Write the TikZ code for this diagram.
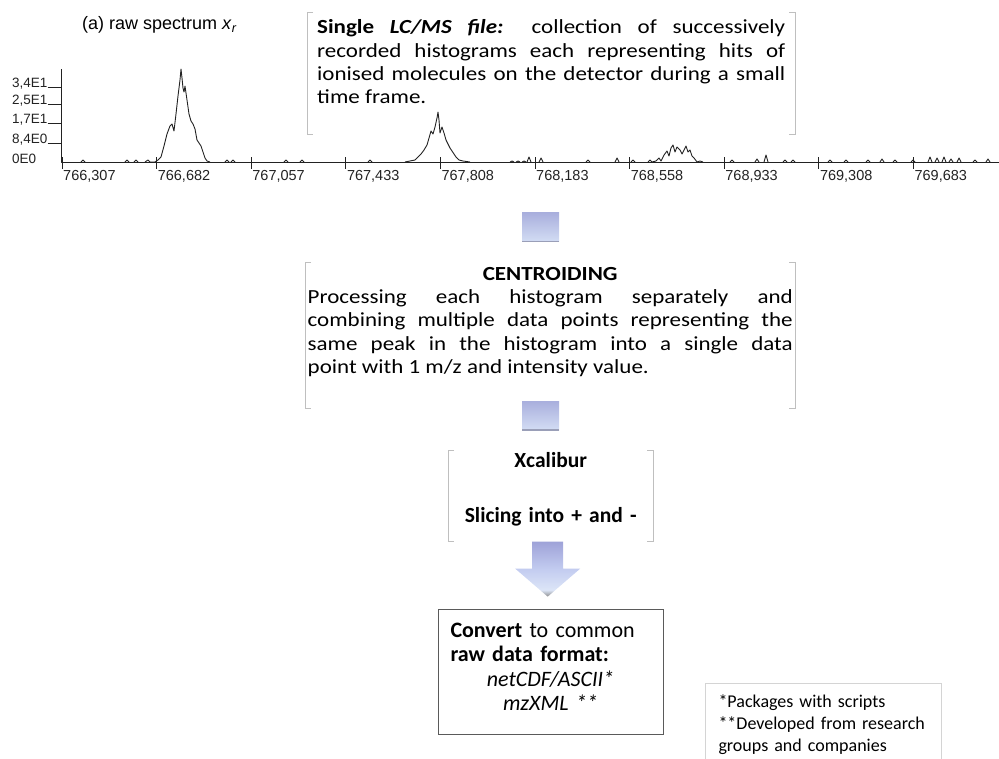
\documentclass[tikz,border=0pt]{standalone}
\usepackage{fontspec}
\setmainfont{Carlito}
\newfontfamily\bodyfont{Carlito}[FakeStretch=1.15]
\newfontfamily\plotfont{Liberation Sans}
\usepackage{tikz}
\usetikzlibrary{positioning}
\setlength{\parindent}{0pt}

\definecolor{lav}{HTML}{9EA2D8}
\definecolor{midbl}{HTML}{C3CCF0}
\definecolor{palebl}{HTML}{DCE5F7}
\definecolor{tipgray}{HTML}{8C8C8C}
\definecolor{sqtop}{HTML}{A9AFDD}
\definecolor{sqbot}{HTML}{D3DDF4}
\definecolor{sqedge}{HTML}{9A9FB8}
\definecolor{brkgray}{HTML}{BFBFBF}
\definecolor{boxgray}{HTML}{5A5A5A}
\definecolor{notegray}{HTML}{D4D4D4}
\definecolor{ink}{HTML}{222222}

\pgfdeclareverticalshading{arrowshade}{100bp}{color(0bp)=(tipgray); color(25bp)=(tipgray); color(31bp)=(palebl); color(50bp)=(midbl); color(75bp)=(lav); color(100bp)=(lav)}

% side brackets round a text node, #2 = extra drop below the text
\newcommand\bracks[2]{%
  \draw[brk] ([xshift=6pt]#1.north west) -- (#1.north west) -- ([yshift=-#2pt]#1.south west) -- ++(6,0);
  \draw[brk] ([xshift=-6pt]#1.north east) -- (#1.north east) -- ([yshift=-#2pt]#1.south east) -- ++(-6,0);}

\begin{document}
\begin{tikzpicture}[x=1pt, y=-1pt, node distance=20pt,
    txt/.style={font=\bodyfont\fontsize{20}{23.3}\selectfont, align=justify, anchor=north west},
    brk/.style={draw=brkgray, line width=0.9pt},
    gsq/.style={minimum width=37pt, minimum height=29pt, inner sep=0pt, top color=sqtop, bottom color=sqbot,
      path picture={\draw[sqedge, line width=1.5pt] (path picture bounding box.south west) -- (path picture bounding box.south east);}},
    spec/.style={draw=ink, line width=0.9pt, line join=round},
    axlab/.style={font=\plotfont\fontsize{14.5}{17}\selectfont, inner sep=0pt, text=ink}]
    \useasboundingbox (0,0) rectangle (999,758);

    % raw spectrum
    \node[font=\plotfont\fontsize{18}{21}\selectfont, anchor=west, inner sep=0pt] (spectitle) at (82,25) {(a) raw spectrum \textit{x}\textsubscript{\textit{r}}};
    \draw[spec] (61,69) -- (61,162) -- (999,162);
    \foreach \yy/\lab [count=\i] in {87/{3,4E1}, 104/{2,5E1}, 123/{1,7E1}, 143/{8,4E0}} {
        \node[axlab, font=\plotfont\fontsize{13.5}{16}\selectfont, anchor=base west] (yl\i) at (12,\yy) {\lab};
        \draw[spec] (yl\i.base east) -- (61,\yy);
    }
    \node[axlab, font=\plotfont\fontsize{13.5}{16}\selectfont, anchor=base west] (yl5) at (12,163) {0E0};
    \foreach \lab [count=\i from 0] in {{766,307},{766,682},{767,057},{767,433},{767,808},{768,183},{768,558},{768,933},{769,308},{769,683}} {
        \node[axlab, anchor=base west] (xl\i) at ({63+\i*94.6},180) {\lab};
        \draw[spec] ({62+\i*94.6},157) -- ({62+\i*94.6},169);
    }
    \draw[spec] (145,162) -- (148,160) -- (150,162) -- (155,162) -- (158,160) -- (161,157) -- (164,146) -- (167,134)
        -- (170,126) -- (172,124) -- (174,131) -- (176,114) -- (178,96) -- (180,80) -- (181,69) -- (182,78) -- (183,88)
        -- (184,92) -- (185,86) -- (187,100) -- (189,114) -- (191,121) -- (193,124) -- (195,129) -- (197,140) -- (199,143)
        -- (201,146) -- (203,152) -- (205,158) -- (207,161) -- (210,162);
    \draw[spec] (405,162) -- (410,161) -- (415,160) -- (418,157) -- (421,154) -- (424,150) -- (427,145) -- (429,138)
        -- (431,131) -- (433,134) -- (435,127) -- (437,118) -- (438,112) -- (439,120) -- (440,133) -- (442,127) -- (444,133)
        -- (446,140) -- (448,144) -- (450,148) -- (452,151) -- (454,154) -- (456,157) -- (459,160) -- (463,161) -- (470,162);
    \draw[spec] (648,162) -- (650,160) -- (652,162) -- (656,161) -- (659,158) -- (661,161) -- (664,155) -- (667,151)
        -- (669,156) -- (671,148) -- (673,145) -- (675,152) -- (677,147) -- (680,150) -- (682,154) -- (684,150) -- (686,146)
        -- (688,152) -- (690,150) -- (692,156) -- (694,158) -- (697,162) -- (700,161) -- (703,162);
    \foreach \bx/\bh in {83/2, 127/2, 136/2, 227/2, 233/2, 286/2, 302/2, 370/2, 512/1, 518/1, 524/1, 529/5, 541/4,
        588/2, 617/4, 633/2, 732/2, 757/3, 766/7, 785/2, 793/2, 830/2, 846/2, 868/2, 882/3, 895/2, 913/2,
        930/5, 937/4, 944/5, 951/3, 959/4, 975/2, 988/3}
        \draw[spec] (\bx-2,162) -- (\bx,162-\bh) -- (\bx+2,162);

    % flow boxes
    \node[txt, text width=468pt, inner xsep=10pt, inner ysep=7.5pt] (lcms) at (307,12)
        {\textbf{Single \textit{LC/MS file:}} collection of successively\linebreak
        recorded histograms each representing hits of\linebreak
        ionised molecules on the detector during a small\linebreak
        time frame.};
    \bracks{lcms}{22.5}

    \node[txt, text width=485pt, inner xsep=2.5pt, inner ysep=5pt] (centroid) at (305,262)
        {{\centering\textbf{CENTROIDING}\par}
        Processing each histogram separately and\linebreak
        combining multiple data points representing the\linebreak
        same peak in the histogram into a single data\linebreak
        point with 1 m/z and intensity value.};
    \bracks{centroid}{27}

    \node[gsq, above=20pt of centroid, xshift=-9.5pt] (sqA) {};
    \node[gsq, below=19pt of centroid, xshift=-9.5pt] (sqB) {};

    \node[txt, font=\fontsize{21.5}{27.5}\selectfont\bfseries, align=center, text width=200pt, inner xsep=2.5pt, inner ysep=2.5pt] (xcal) at (448,450)
        {Xcalibur\\[27.5pt]Slicing into + and -};
    \bracks{xcal}{12.5}

    % big down arrow
    \coordinate (dtail) at ([xshift=-3pt, yshift=-12.5pt]xcal.south);
    \shade[shading=arrowshade] ([xshift=-15.5pt]dtail) -- ++(31,0) -- ++(0,27) -- ++(17,0) -- ++(-32.5,28)
        -- ++(-32.5,-28) -- ++(17,0) -- cycle;

    \node[draw=boxgray, line width=1pt, text width=200pt, inner xsep=12.5pt, inner ysep=13.5pt, align=left,
        font=\fontsize{22}{24.5}\selectfont, anchor=north] (convert) at (550.5,609)
        {\textbf{Convert} to common\\\textbf{raw data format:}\par
        {\centering\textit{netCDF/ASCII*}\par\textit{mzXML **}\rule[-10pt]{0pt}{10pt}\par}};

    \node[draw=notegray, line width=1pt, text width=210pt, inner xsep=13pt, inner ysep=11.5pt, align=left,
        font=\fontsize{18}{21.7}\selectfont, anchor=north west] (notes) at (705,683)
        {*Packages with scripts\\{}**Developed from research\\groups and companies};
\end{tikzpicture}
\end{document}
